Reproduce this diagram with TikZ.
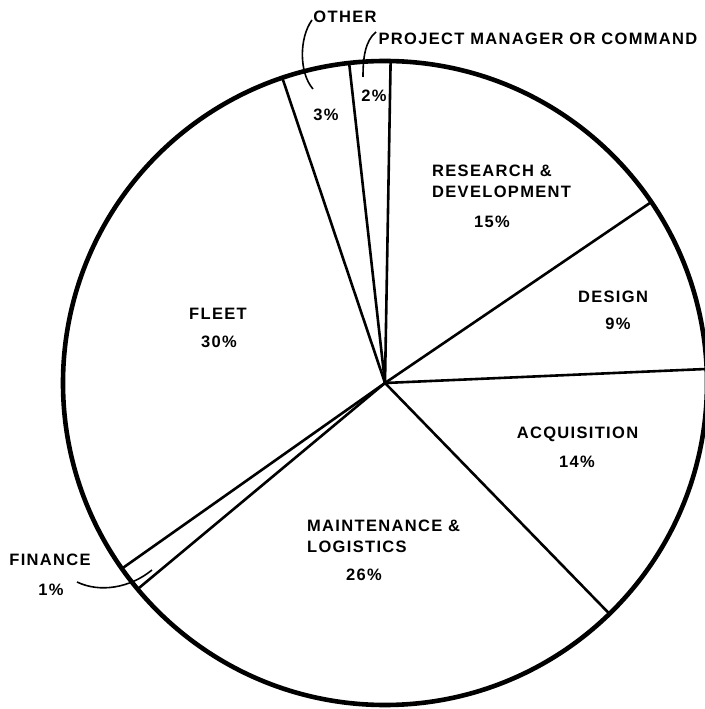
\documentclass[tikz,border=0pt]{standalone}
\usepackage{fontspec}
\setmainfont{Liberation Sans}[LetterSpace=8]
\usepackage{tikz}
\usetikzlibrary{calc, positioning}

\tikzset{
    rim/.style={line width=4.6pt},
    spoke/.style={line width=2.6pt},
    leader/.style={line width=1.6pt},
    lbl/.style={font=\fontsize{16.5}{21}\selectfont\bfseries, inner sep=0pt},
}

\begin{document}
\begin{tikzpicture}[x=1pt, y=1pt]
            \useasboundingbox (-385,-326) rectangle (319,383);

            \coordinate (c) at (0,0);
            \draw[rim] (c) circle (322);

            % slice borders
            \coordinate (pmr) at (89:322);
            \coordinate (otr) at (96.4:322);
            \coordinate (flr) at (108.6:322);
            \coordinate (fir) at (215.2:322);
            \coordinate (mar) at (219.8:322);
            \coordinate (acr) at (314.2:322);
            \coordinate (der) at (2.5:322);
            \coordinate (rdr) at (34.2:322);

            \draw[spoke] (c) -- (pmr);
            \draw[spoke] (c) -- (otr);
            \draw[spoke] (c) -- (flr);
            \draw[spoke] (c) -- (fir);
            \draw[spoke] (c) -- (mar);
            \draw[spoke] (c) -- (acr);
            \draw[spoke] (c) -- (der);
            \draw[spoke] (c) -- (rdr);

            % labels
            \node[lbl, anchor=base] (other) at (-40,360) {OTHER};
            \node[lbl, anchor=base] (pm) at (153,338) {PROJECT MANAGER OR COMMAND};
            \node[lbl, anchor=base] (pct2) at (-11,281) {2\%};
            \node[lbl, anchor=base] (pct3) at (-59,262) {3\%};
            \node[lbl, anchor=base west, align=left] (rd) at (47,185) {RESEARCH \&\\DEVELOPMENT};
            \node[lbl, anchor=base] (pct15) at (107,155) {15\%};
            \node[lbl, anchor=base] (design) at (228,80) {DESIGN};
            \node[lbl, anchor=base] (pct9) at (233,53) {9\%};
            \node[lbl, anchor=base] (acq) at (192.5,-56) {ACQUISITION};
            \node[lbl, anchor=base] (pct14) at (192,-84) {14\%};
            \node[lbl, anchor=base west, align=left] (maint) at (-78,-169) {MAINTENANCE \&\\LOGISTICS};
            \node[lbl, anchor=base] (pct26) at (-21,-197) {26\%};
            \node[lbl, anchor=base] (fleet) at (-167,63) {FLEET};
            \node[lbl, anchor=base] (pct30) at (-166,35) {30\%};
            \node[lbl, anchor=base] (fin) at (-335,-182) {FINANCE};
            \node[lbl, anchor=base] (pct1) at (-334,-212) {1\%};

            % leaders
            \coordinate (othertop) at (-73,363);
            \coordinate (otherend) at (-72,294);
            \coordinate (pmtop) at (-9,351);
            \coordinate (pmend) at (-22,306);
            \coordinate (finstart) at (-308,-199);
            \coordinate (finend) at (-233,-187);

            \draw[leader] (othertop) .. controls (-86,345) and (-86,310) .. (otherend);
            \draw[leader] (pmtop) .. controls (-20,342) and (-22,325) .. (pmend);
            \draw[leader] (finstart) .. controls (-285,-210) and (-255,-205) .. (finend);
        \end{tikzpicture}
\end{document}
